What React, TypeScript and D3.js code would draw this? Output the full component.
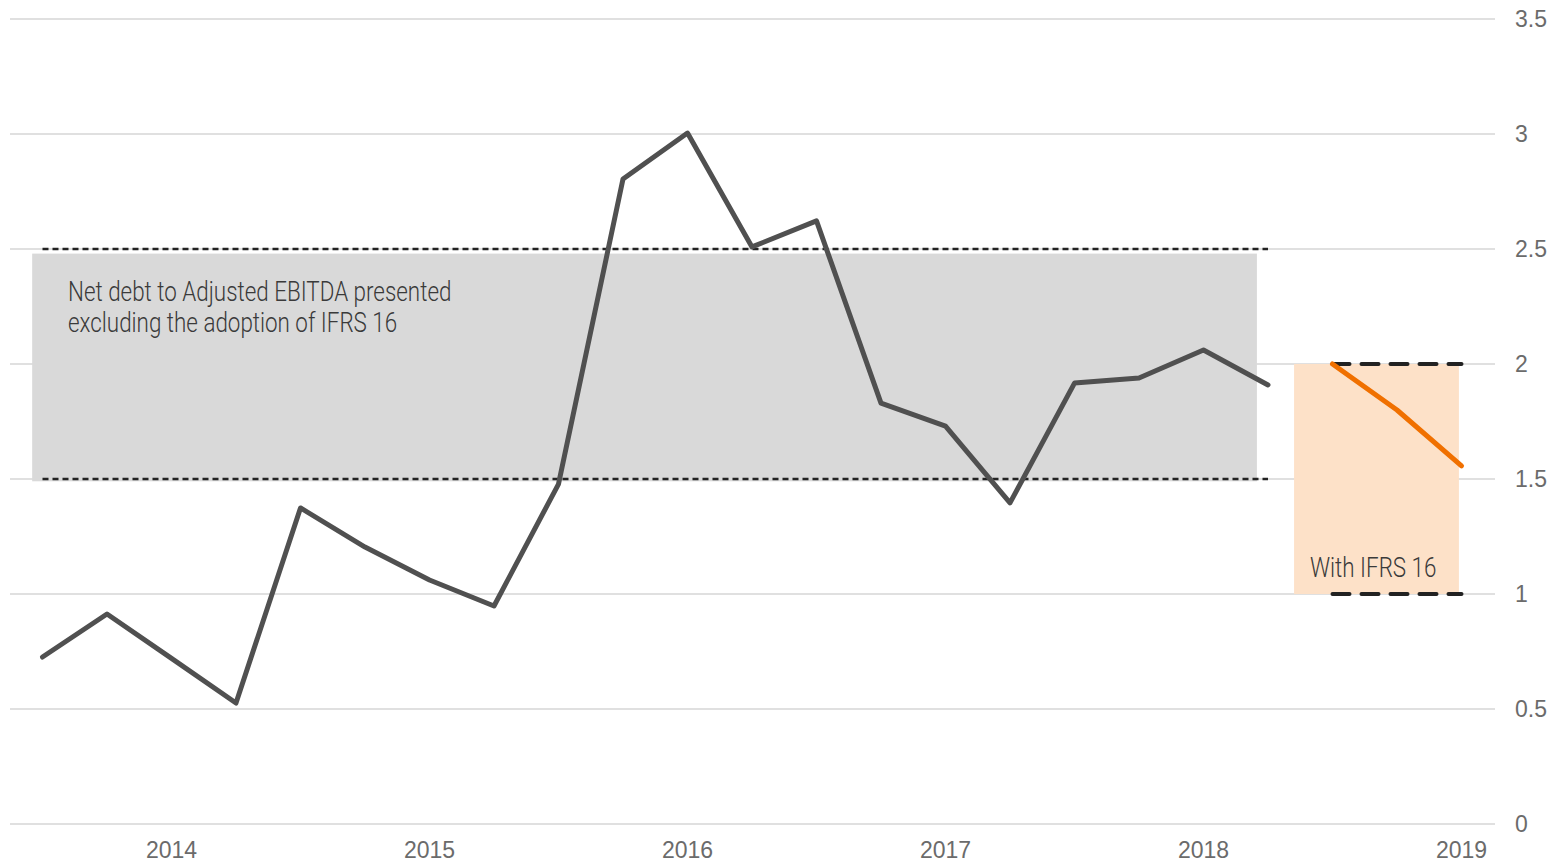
import React from "react";
import * as d3 from "d3";

const periods = [2013.5, 2013.75, 2014, 2014.25, 2014.5, 2014.75, 2015, 2015.25, 2015.5, 2015.75, 2016, 2016.25, 2016.5, 2016.75, 2017, 2017.25, 2017.5, 2017.75, 2018, 2018.25];
const ratioExIFRS = [0.726, 0.913, 0.72, 0.526, 1.374, 1.204, 1.061, 0.948, 1.478, 2.804, 3.004, 2.509, 2.622, 1.83, 1.73, 1.396, 1.917, 1.939, 2.061, 1.909];
const periodsIFRS = [2018.5, 2018.75, 2019];
const ratioIFRS = [2.0, 1.8, 1.557];
const yTicks = [0, 0.5, 1, 1.5, 2, 2.5, 3, 3.5];
const yearTicks = [2014, 2015, 2016, 2017, 2018, 2019];
const targetEx = { x0: 2013.5, x1: 2018.25, lo: 1.5, hi: 2.5 };
const bandEx = { x0: 2013.46, x1: 2018.207, lo: 1.49, hi: 2.48 };
const targetIFRS = { x0: 2018.5, x1: 2019, lo: 1, hi: 2 };
const bandIFRS = { x0: 2018.351, x1: 2018.99, lo: 1, hi: 2 };
const noteEx = ["Net debt to Adjusted EBITDA presented", "excluding the adoption of IFRS 16"];
const noteIFRS = "With IFRS 16";

export default function App() {
  const W = 1553, H = 863;
  const x = d3.scaleLinear().domain([2013.5, 2019]).range([42.5, 1461.5]);
  const y = d3.scaleLinear().domain([0, 3.5]).range([824, 19]);
  const line = d3.line<[number, number]>().x(d => x(d[0])).y(d => y(d[1]));
  const exPts = periods.map((p, i) => [p, ratioExIFRS[i]] as [number, number]);
  const ifrsPts = periodsIFRS.map((p, i) => [p, ratioIFRS[i]] as [number, number]);
  const tickFont = "'Liberation Sans', Arial, sans-serif";
  const noteFont = "Roboto, 'Open Sans', sans-serif";
  const sx = 0.83;
  return (
    <svg width={W} height={H} style={{ position: "absolute", left: 0, top: 0, background: "#fff" }}>
      {yTicks.map(t => (
        <g key={t}>
          <line x1={10} x2={1495} y1={y(t)} y2={y(t)} stroke="#e0e0e0" strokeWidth={2} />
          <text x={1515} y={y(t)} dy="0.36em" fontFamily={tickFont} fontSize={23} fill="#6b6b6b">{t}</text>
        </g>
      ))}
      {yearTicks.map(t => (
        <text key={t} x={x(t)} y={858} textAnchor="middle" fontFamily={tickFont} fontSize={23} fill="#6b6b6b">{t}</text>
      ))}
      <rect x={x(bandEx.x0)} y={y(bandEx.hi)} width={x(bandEx.x1) - x(bandEx.x0)} height={y(bandEx.lo) - y(bandEx.hi)} fill="#d9d9d9" />
      <rect x={x(bandIFRS.x0)} y={y(bandIFRS.hi)} width={x(bandIFRS.x1) - x(bandIFRS.x0)} height={y(bandIFRS.lo) - y(bandIFRS.hi)} fill="#fde1c8" />
      {[targetEx.lo, targetEx.hi].map(v => (
        <line key={"e" + v} x1={x(targetEx.x0)} x2={x(targetEx.x1)} y1={y(v)} y2={y(v)} stroke="#222" strokeWidth={2.5} strokeDasharray="6 4" />
      ))}
      {[targetIFRS.lo, targetIFRS.hi].map(v => (
        <line key={"i" + v} x1={x(targetIFRS.x0)} x2={x(targetIFRS.x1)} y1={y(v)} y2={y(v)} stroke="#222" strokeWidth={4} strokeDasharray="17 12" strokeLinecap="round" />
      ))}
      <g transform={`translate(68,0) scale(${sx},1)`}>
        <text fontFamily={noteFont} fontWeight={300} fontSize={27} fill="#3a3a3a">
          <tspan x={0} y={301}>{noteEx[0]}</tspan>
          <tspan x={0} y={332}>{noteEx[1]}</tspan>
        </text>
      </g>
      <g transform={`translate(1310,0) scale(${sx},1)`}>
        <text x={0} y={577} fontFamily={noteFont} fontWeight={300} fontSize={27} fill="#3a3a3a">{noteIFRS}</text>
      </g>
      <path d={line(exPts) || ""} fill="none" stroke="#505050" strokeWidth={5} strokeLinejoin="round" strokeLinecap="round" />
      <path d={line(ifrsPts) || ""} fill="none" stroke="#f07000" strokeWidth={5} strokeLinejoin="round" strokeLinecap="round" />
    </svg>
  );
}
